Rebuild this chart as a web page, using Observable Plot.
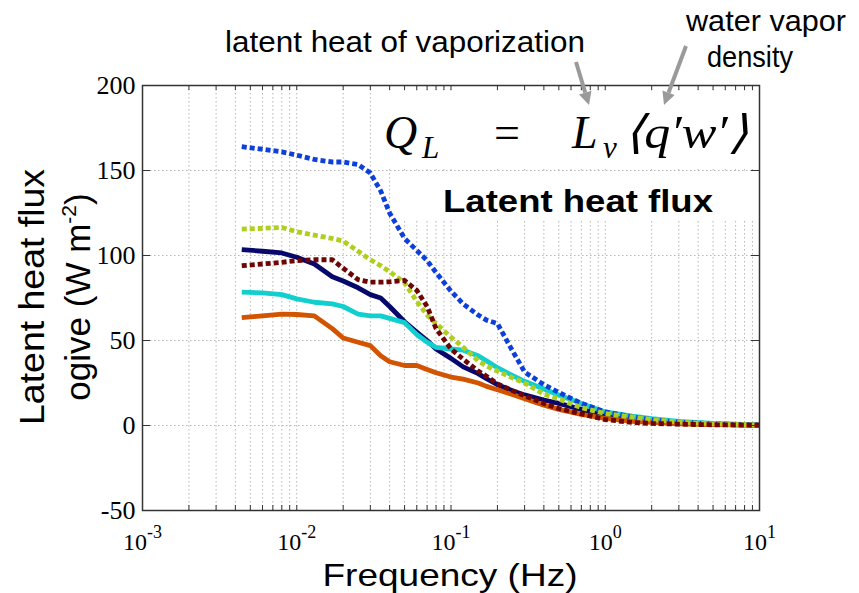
<!DOCTYPE html>
<html><head><meta charset="utf-8">
<script src="https://cdn.jsdelivr.net/npm/d3@7"></script>
<script src="https://cdn.jsdelivr.net/npm/@observablehq/plot@0.6"></script>
<style>body{margin:0;background:#fff;} svg{display:block}</style>
</head><body><div id="chart"></div>
<script>
// Frequency grid (Hz)
const freq = [0.0044,0.006,0.008,0.01,0.013,0.017,0.02,0.025,0.03,0.035,0.04,0.05,0.06,0.07,0.08,0.1,0.12,0.15,0.17,0.2,0.25,0.3,0.4,0.5,0.7,1,1.5,2,3,5,10];
// Ogive values (W m-2)
const blueDotted   = [164,162.5,161,159,156.5,155,155,153.5,148.5,138,125,110,103,97,90,79,71.5,65,62,60,44,31.5,24,19.5,13,8,5,3.5,2,1,0.3];
const greenDotted  = [115.5,116,116.5,114,112,110,108.5,102.5,97.5,94,90.5,84,73,65,60,52,46,38,35,32,28,25,18.5,15.5,10.5,7,5,3.5,2,1,0.3];
const navySolid    = [103.5,102.5,101.5,99,95,87.5,85,81,77,75,70,61,55,50,45,39.5,34.5,30.5,27.5,24,20.5,18,15,13,9.5,6,4,2.8,1.5,0.7,0.2];
const redDotted    = [94,95,96,97,97.5,97.5,92.5,85.8,84.3,84.3,84.5,85.3,79.5,70,57,45,39,32,29,24.5,20.5,17.5,13,10,6.8,3.5,1.8,1.2,0.8,0.4,0.2];
const cyanSolid    = [78.5,78,77,74.5,72.5,71.5,70,65.5,64.5,64.5,63,60.5,53.5,49,46,45,44.3,41,38,34,29.5,26,21.5,18,13,8,5.5,4,2.4,1.2,0.3];
const orangeSolid  = [63.5,64.5,65.5,65.3,64.5,57,51.5,49,47,41,37.5,35.3,35.3,33,31,28.5,27.3,25,23,21,18.2,15.8,12,9.5,6.5,4.2,2.5,1.8,1,0.5,0.2];

// Ticks
const xMajor = [0.001, 0.01, 0.1, 1, 10];
const xTickLabels = ["10^-3","10^-2","10^-1","10^0","10^1"];
const yTicks = [-50, 0, 50, 100, 150, 200];
const yTickLabels = ["-50", "0", "50", "100", "150", "200"];
const allXTicks = d3.scaleLog().domain([1e-3, 10]).ticks();

// Series styling (draw order)
const series = [
  {values: navySolid,   color: "#06086b", dashed: false},
  {values: cyanSolid,   color: "#12cfcf", dashed: false},
  {values: orangeSolid, color: "#d25400", dashed: false},
  {values: blueDotted,  color: "#0d3fdb", dashed: true},
  {values: greenDotted, color: "#afcf1f", dashed: true},
  {values: redDotted,   color: "#6e0606", dashed: true}
];

const lineMarks = series.map(s => Plot.line(freq.map((f, i) => ({f, v: s.values[i]})), {
  x: "f", y: "v", stroke: s.color, strokeWidth: 4.8,
  strokeDasharray: s.dashed ? "5,3" : null, strokeLinecap: "butt", strokeLinejoin: "round", curve: "linear"
}));

const chart = Plot.plot({
  width: 859, height: 593,
  marginLeft: 142, marginRight: 100, marginTop: 85, marginBottom: 83,
  style: {background: "white", fontFamily: "Liberation Sans", color: "black"},
  x: {type: "log", domain: [1e-3, 10]},
  y: {domain: [-50, 200]},
  marks: [
    Plot.ruleX(allXTicks, {stroke: "#b5b5b5", strokeDasharray: "1.5,2.5"}),
    Plot.ruleY(yTicks, {stroke: "#b5b5b5", strokeDasharray: "1.5,2.5"}),
    ...lineMarks,
    Plot.ruleX(allXTicks, {insetTop: 420, stroke: "#333"}),
    Plot.ruleX(allXTicks, {insetBottom: 420, stroke: "#333"}),
    Plot.ruleY(yTicks, {insetRight: 609, stroke: "#333"}),
    Plot.ruleY(yTicks, {insetLeft: 609, stroke: "#333"}),
    Plot.frame({stroke: "#333", strokeWidth: 1.5}),
    Plot.axisY({ticks: yTicks, tickSize: 0, tickPadding: 7, tickFormat: d => yTickLabels[yTicks.indexOf(d)], fontSize: 26, fontFamily: "Liberation Serif", label: null}),
    Plot.axisX({ticks: xMajor, tickSize: 0, tickPadding: 22, tickFormat: d => xTickLabels[xMajor.indexOf(d)], fontSize: 24, fontFamily: "Liberation Serif", label: null})
  ]
});
document.getElementById("chart").appendChild(chart);

const svg = d3.select(chart);
// superscripts on x tick labels
svg.selectAll('g[aria-label="x-axis tick label"] text').each(function() {
  const [b, e] = this.textContent.split("^");
  const s = d3.select(this); s.text(null);
  s.append("tspan").text(b);
  s.append("tspan").attr("dy", -12).attr("font-size", 18).text(e);
});

// white boxes behind annotations (over grid, under lines)
const firstLine = chart.querySelector('g[aria-label="line"]');
svg.insert("rect", () => firstLine).attr("x", 372).attr("y", 92).attr("width", 386).attr("height", 77).attr("fill", "white");
svg.insert("rect", () => firstLine).attr("x", 393).attr("y", 172).attr("width", 365).attr("height", 48).attr("fill", "white");

// formula
const serif = "Liberation Serif";
function t(x, y, size, str, opts = {}) {
  return svg.append("text").attr("x", x).attr("y", y).attr("font-size", size)
    .attr("font-family", opts.family || serif).attr("font-style", opts.italic ? "italic" : null)
    .attr("font-weight", opts.bold ? "bold" : null).attr("text-anchor", opts.anchor || "start")
    .attr("fill", opts.fill || "black").text(str);
}
t(384, 148, 46, "Q", {italic: true});
t(422, 158, 31, "L", {italic: true});
t(494, 148, 46, "=");
t(572, 148, 46, "L", {italic: true});
t(603, 158, 31, "v", {italic: true});
t(624, 148, 46, "⟨q′w′⟩", {italic: true}).attr("textLength", 124).attr("lengthAdjust", "spacingAndGlyphs");

// Panel title
t(578, 212, 32, "Latent heat flux", {family: "Liberation Sans", bold: true, anchor: "middle"})
  .attr("textLength", 270).attr("lengthAdjust", "spacingAndGlyphs");

// Annotations
t(405, 52, 29, "latent heat of vaporization", {family: "Liberation Sans", anchor: "middle"})
  .attr("textLength", 360).attr("lengthAdjust", "spacingAndGlyphs");
t(766, 31, 29, "water vapor", {family: "Liberation Sans", anchor: "middle"})
  .attr("textLength", 160).attr("lengthAdjust", "spacingAndGlyphs");
t(750, 67, 29, "density", {family: "Liberation Sans", anchor: "middle"})
  .attr("textLength", 86).attr("lengthAdjust", "spacingAndGlyphs");

function arrow(x1, y1, x2, y2) {
  const dx = x2 - x1, dy = y2 - y1, L = Math.hypot(dx, dy), ux = dx / L, uy = dy / L;
  const hl = 13, hw = 6.5;
  const bx = x2 - ux * hl, by = y2 - uy * hl;
  svg.append("line").attr("x1", x1).attr("y1", y1).attr("x2", bx).attr("y2", by)
    .attr("stroke", "#9a9a9a").attr("stroke-width", 4);
  svg.append("polygon").attr("points", [[x2, y2], [bx - uy * hw, by + ux * hw], [bx + uy * hw, by - ux * hw]].map(p => p.join(",")).join(" "))
    .attr("fill", "#9a9a9a");
}
arrow(576, 62, 589, 105);
arrow(686, 46, 664, 105);

// Axis titles
t(450, 586, 32, "Frequency (Hz)", {family: "Liberation Sans", anchor: "middle"})
  .attr("textLength", 255).attr("lengthAdjust", "spacingAndGlyphs");
svg.append("text").attr("transform", "translate(44,297) rotate(-90)").attr("text-anchor", "middle")
  .attr("font-size", 35).attr("font-family", "Liberation Sans").text("Latent heat flux")
  .attr("textLength", 256).attr("lengthAdjust", "spacingAndGlyphs");
const l2 = svg.append("text").attr("transform", "translate(90,297) rotate(-90)").attr("text-anchor", "middle")
  .attr("font-size", 35).attr("font-family", "Liberation Sans");
l2.append("tspan").text("ogive (W m");
l2.append("tspan").attr("dy", -14).attr("font-size", 21).text("-2");
l2.append("tspan").attr("dy", 14).text(")");
</script>
</body></html>
